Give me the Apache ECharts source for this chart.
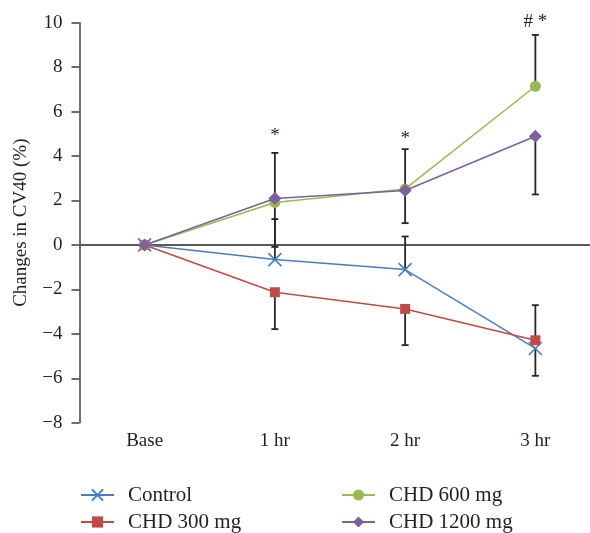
<!DOCTYPE html>
<html>
<head>
<meta charset="utf-8">
<script src="https://cdn.jsdelivr.net/npm/echarts@6/dist/echarts.min.js"></script>
<style>
html,body{margin:0;padding:0;background:#fff;}
#chart{width:590px;height:533px;}
</style>
</head>
<body>
<div id="chart"></div>
<script>
const categories = ['Base', '1 hr', '2 hr', '3 hr'];
const seriesNames = ['Control', 'CHD 300 mg', 'CHD 600 mg', 'CHD 1200 mg'];
const controlValues = [0, -0.66, -1.11, -4.66];
const chd300Values = [0, -2.13, -2.88, -4.29];
const chd600Values = [0, 1.91, 2.52, 7.14];
const chd1200Values = [0, 2.09, 2.45, 4.89];
// value at the end cap of each error bar (null = no bar)
const controlErrEnd = [null, 1.16, 0.38, -5.89];
const chd300ErrEnd = [null, -3.79, -4.51, -2.71];
const chd600ErrEnd = [null, -0.09, 4.31, 9.45];
const chd1200ErrEnd = [null, 4.14, 0.98, 2.27];
const yMin = -8, yMax = 10, yStep = 2;
const annCategories = ['1 hr', '2 hr', '3 hr'];
const annTexts = ['*', '*', '# *'];
const annValues = [4.46, 4.32, 9.62];

const FONT = 'Liberation Serif';
const TXT = '#231F20';
const colors = ['#4A7EBB', '#BE4B48', '#98B954', '#7D60A0'];
const symbols = ['path://M0,0L10,10M10,0L0,10', 'rect', 'circle', 'diamond'];
const symbolSizes = [13, 10, 11, 13];
const allValues = [controlValues, chd300Values, chd600Values, chd1200Values];
const allErr = [controlErrEnd, chd300ErrEnd, chd600ErrEnd, chd1200ErrEnd];
const legendPos = [[80, 484.5], [80, 511.5], [341, 484.5], [341, 511.5]];

const errData = [];
allValues.forEach((vals, s) => {
  vals.forEach((v, i) => {
    if (allErr[s][i] !== null) errData.push([i, v, allErr[s][i]]);
  });
});

const lineSeries = seriesNames.map((name, s) => ({
  name: name,
  type: 'line',
  data: allValues[s],
  symbol: symbols[s],
  symbolSize: symbolSizes[s],
  z: 5 + s,
  lineStyle: { color: colors[s], width: 1.5 },
  itemStyle: s === 0
    ? { color: colors[s], borderColor: colors[s], borderWidth: 1.6 }
    : { color: colors[s], borderWidth: 0 },
  emphasis: { disabled: true },
  animation: false,
  markLine: s === 0 ? {
    silent: true, symbol: 'none', label: { show: false },
    lineStyle: { color: '#595959', width: 2, type: 'solid' },
    data: [{ yAxis: 0 }], z: 1, animation: false
  } : undefined
}));

const legends = seriesNames.map((name, s) => ({
  data: [name], left: legendPos[s][0], top: legendPos[s][1],
  itemWidth: 33, itemHeight: 14, padding: 0,
  selectedMode: false,
  textStyle: { fontFamily: FONT, fontSize: 21, color: TXT, lineHeight: 21, padding: [0, 0, 0, 9] }
}));

const minus = v => String(v).replace('-', '\u2212');

const chart = echarts.init(document.getElementById('chart'));
chart.setOption({
  animation: false,
  backgroundColor: '#fff',
  grid: { left: 79.5, top: 22.7, width: 521, height: 400, outerBoundsMode: 'none', containLabel: false },
  legend: legends,
  xAxis: {
    type: 'category', data: categories, boundaryGap: true,
    axisLine: { show: false }, axisTick: { show: false },
    axisLabel: { fontFamily: FONT, fontSize: 19, color: TXT, margin: 9 },
    splitLine: { show: false }
  },
  yAxis: {
    type: 'value', min: yMin, max: yMax, interval: yStep,
    name: 'Changes in CV40 (%)', nameLocation: 'middle', nameGap: 49, nameRotate: 90,
    nameTextStyle: { fontFamily: FONT, fontSize: 19, color: TXT },
    axisLine: { show: true, onZero: false, lineStyle: { color: '#404040', width: 1.5 } },
    axisTick: { show: true, length: 8, lineStyle: { color: '#404040', width: 1.5 } },
    axisLabel: { fontFamily: FONT, fontSize: 19, color: TXT, margin: 17, formatter: minus },
    splitLine: { show: false }
  },
  series: [
    {
      type: 'custom', z: 3, silent: true, animation: false,
      data: errData,
      renderItem: function (params, api) {
        const x = api.coord([api.value(0), api.value(1)])[0];
        const y1 = api.coord([api.value(0), api.value(1)])[1];
        const y2 = api.coord([api.value(0), api.value(2)])[1];
        const st = { stroke: '#262626', lineWidth: 1.8 };
        return {
          type: 'group', children: [
            { type: 'line', shape: { x1: x, y1: y1, x2: x, y2: y2 }, style: st },
            { type: 'line', shape: { x1: x - 3.5, y1: y2, x2: x + 3.5, y2: y2 }, style: st }
          ]
        };
      }
    },
    ...lineSeries,
    {
      type: 'custom', z: 10, silent: true, animation: false,
      data: annCategories.map((c, i) => [categories.indexOf(c), annValues[i], annTexts[i]]),
      renderItem: function (params, api) {
        const p = api.coord([api.value(0), api.value(1)]);
        return {
          type: 'text',
          style: {
            text: annTexts[params.dataIndex], x: p[0], y: p[1],
            align: 'center', verticalAlign: 'bottom',
            font: '19px "Liberation Serif"', fill: TXT
          }
        };
      }
    }
  ]
});
</script>
</body>
</html>
